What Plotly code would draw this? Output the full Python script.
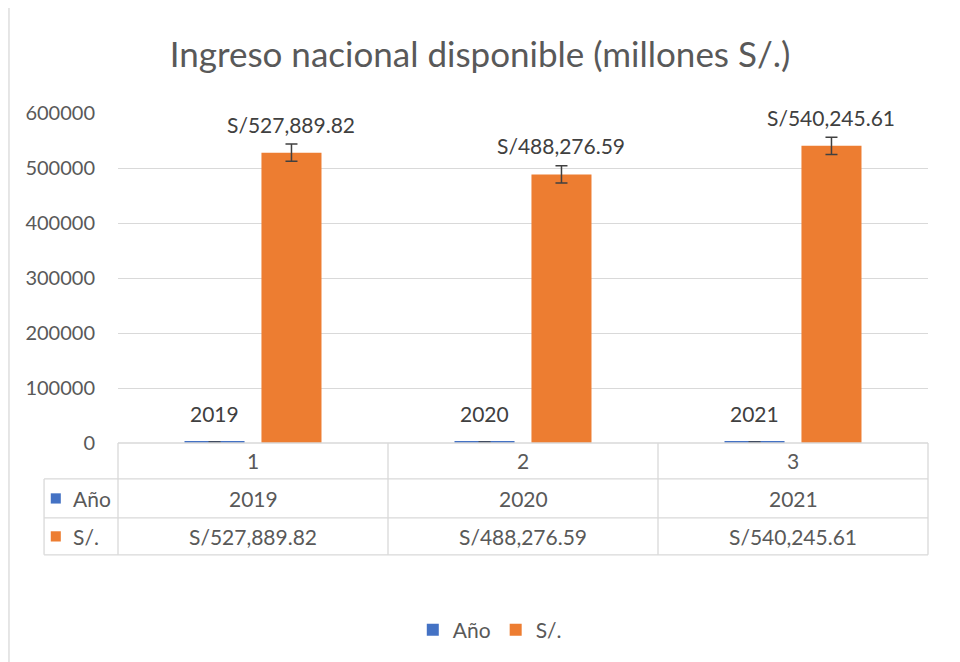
import plotly.graph_objects as go
import numpy as np

# ---- data ----
categorias = ["1", "2", "3"]
anios = [2019, 2020, 2021]
ingreso = [527889.82, 488276.59, 540245.61]
y_ticks = [0, 100000, 200000, 300000, 400000, 500000, 600000]
serie_nombres = ["Año", "S/."]

def std_err(vals):
    a = np.array(vals, dtype=float)
    return float(a.std(ddof=1) / np.sqrt(len(a)))

def fmt_sol(v):
    return f"S/{v:,.2f}"

BLUE = "#4472C4"
ORANGE = "#ED7D31"
GRAY_TXT = "#595959"
LABEL_TXT = "#404040"
GRID = "#D9D9D9"
FONT = "Lato"

BARGAP = 0.43
xpos = list(range(len(categorias)))
half = (1 - BARGAP) / 4  # offset of each bar from category centre

fig = go.Figure()
fig.add_trace(go.Bar(
    x=xpos, y=anios, name=serie_nombres[0], marker=dict(color=BLUE, line=dict(width=0)),
    error_y=dict(type="constant", value=std_err(anios), color="#404040", thickness=1.5, width=6),
))
fig.add_trace(go.Bar(
    x=xpos, y=ingreso, name=serie_nombres[1], marker=dict(color=ORANGE, line=dict(width=0)),
    error_y=dict(type="constant", value=std_err(ingreso), color="#404040", thickness=1.5, width=6),
))

annotations = []
lab_font = dict(size=21, color=LABEL_TXT, family=FONT)
for i, (a, v) in enumerate(zip(anios, ingreso)):
    annotations.append(dict(x=i - half, y=a, xref="x", yref="y", text=str(a), showarrow=False,
                            yanchor="bottom", yshift=14, font=lab_font))
    annotations.append(dict(x=i + half, y=v, xref="x", yref="y", text=fmt_sol(v), showarrow=False,
                            yanchor="bottom", yshift=14, font=lab_font))

# data table (paper coords)
row_edges = [0.0, -0.109, -0.227, -0.339]
row_mid = [(row_edges[k] + row_edges[k + 1]) / 2 for k in range(3)]
col_edges = [0.0, 1 / 3, 2 / 3, 1.0]
left_x = -0.0913
table_font = dict(size=21, color=GRAY_TXT, family=FONT)
for i in xpos:
    annotations.append(dict(x=i, y=row_mid[0], xref="x", yref="paper", text=categorias[i],
                            showarrow=False, font=table_font, yanchor="middle"))
    annotations.append(dict(x=i, y=row_mid[1], xref="x", yref="paper", text=str(anios[i]),
                            showarrow=False, font=table_font, yanchor="middle"))
    annotations.append(dict(x=i, y=row_mid[2], xref="x", yref="paper", text=fmt_sol(ingreso[i]),
                            showarrow=False, font=table_font, yanchor="middle"))
for k, nm in enumerate(serie_nombres):
    annotations.append(dict(x=-0.0583, y=row_mid[k + 1], xref="paper", yref="paper", text=nm,
                            showarrow=False, font=table_font, xanchor="left", yanchor="middle"))

shapes = []
line = dict(color=GRID, width=1.3)
for k, ye in enumerate(row_edges):
    x0 = 0.0 if k == 0 else left_x
    shapes.append(dict(type="line", xref="paper", yref="paper", x0=x0, x1=1.0, y0=ye, y1=ye, line=line))
for xv in col_edges:
    shapes.append(dict(type="line", xref="paper", yref="paper", x0=xv, x1=xv, y0=0, y1=row_edges[-1], line=line))
shapes.append(dict(type="line", xref="paper", yref="paper", x0=left_x, x1=left_x,
                   y0=row_edges[1], y1=row_edges[-1], line=line))
for k, col in enumerate([BLUE, ORANGE]):
    yc = row_mid[k + 1]
    shapes.append(dict(type="rect", xref="paper", yref="paper", x0=-0.0830, x1=-0.0706,
                       y0=yc - 0.0155, y1=yc + 0.0155, fillcolor=col, line=dict(width=0)))
# chart outer border
shapes.append(dict(type="rect", xref="paper", yref="paper", x0=-0.1346, x1=1.06, y0=-0.72, y1=1.3212,
                   line=dict(color=GRID, width=1.3)))

fig.update_layout(
    width=960, height=662,
    margin=dict(l=110, r=40, t=105, b=227),
    paper_bgcolor="white", plot_bgcolor="white",
    font=dict(family=FONT, color=GRAY_TXT),
    title=dict(text="Ingreso nacional disponible (millones S/.)", x=0.4917, xanchor="center",
               y=1 - 47 / 662, yanchor="middle", font=dict(size=35, color=GRAY_TXT, family=FONT)),
    barmode="group", bargap=BARGAP, bargroupgap=0.22,
    showlegend=True,
    legend=dict(orientation="h", x=0.459, xanchor="center", y=-0.567, yanchor="middle",
                font=dict(size=21, color=GRAY_TXT, family=FONT), itemwidth=30),
    annotations=annotations, shapes=shapes,
)
fig.update_xaxes(range=[-0.5, 2.5], showticklabels=False, showgrid=False, zeroline=False,
                 showline=False, ticks="")
fig.update_yaxes(range=[0, 600000], tickvals=y_ticks, ticktext=[str(t) for t in y_ticks],
                 showgrid=True, gridcolor=GRID, gridwidth=1.3, zeroline=False, showline=False,
                 ticks="", ticklabelstandoff=22, tickfont=dict(size=20, color=GRAY_TXT, family=FONT))

fig.write_html("out.html")
